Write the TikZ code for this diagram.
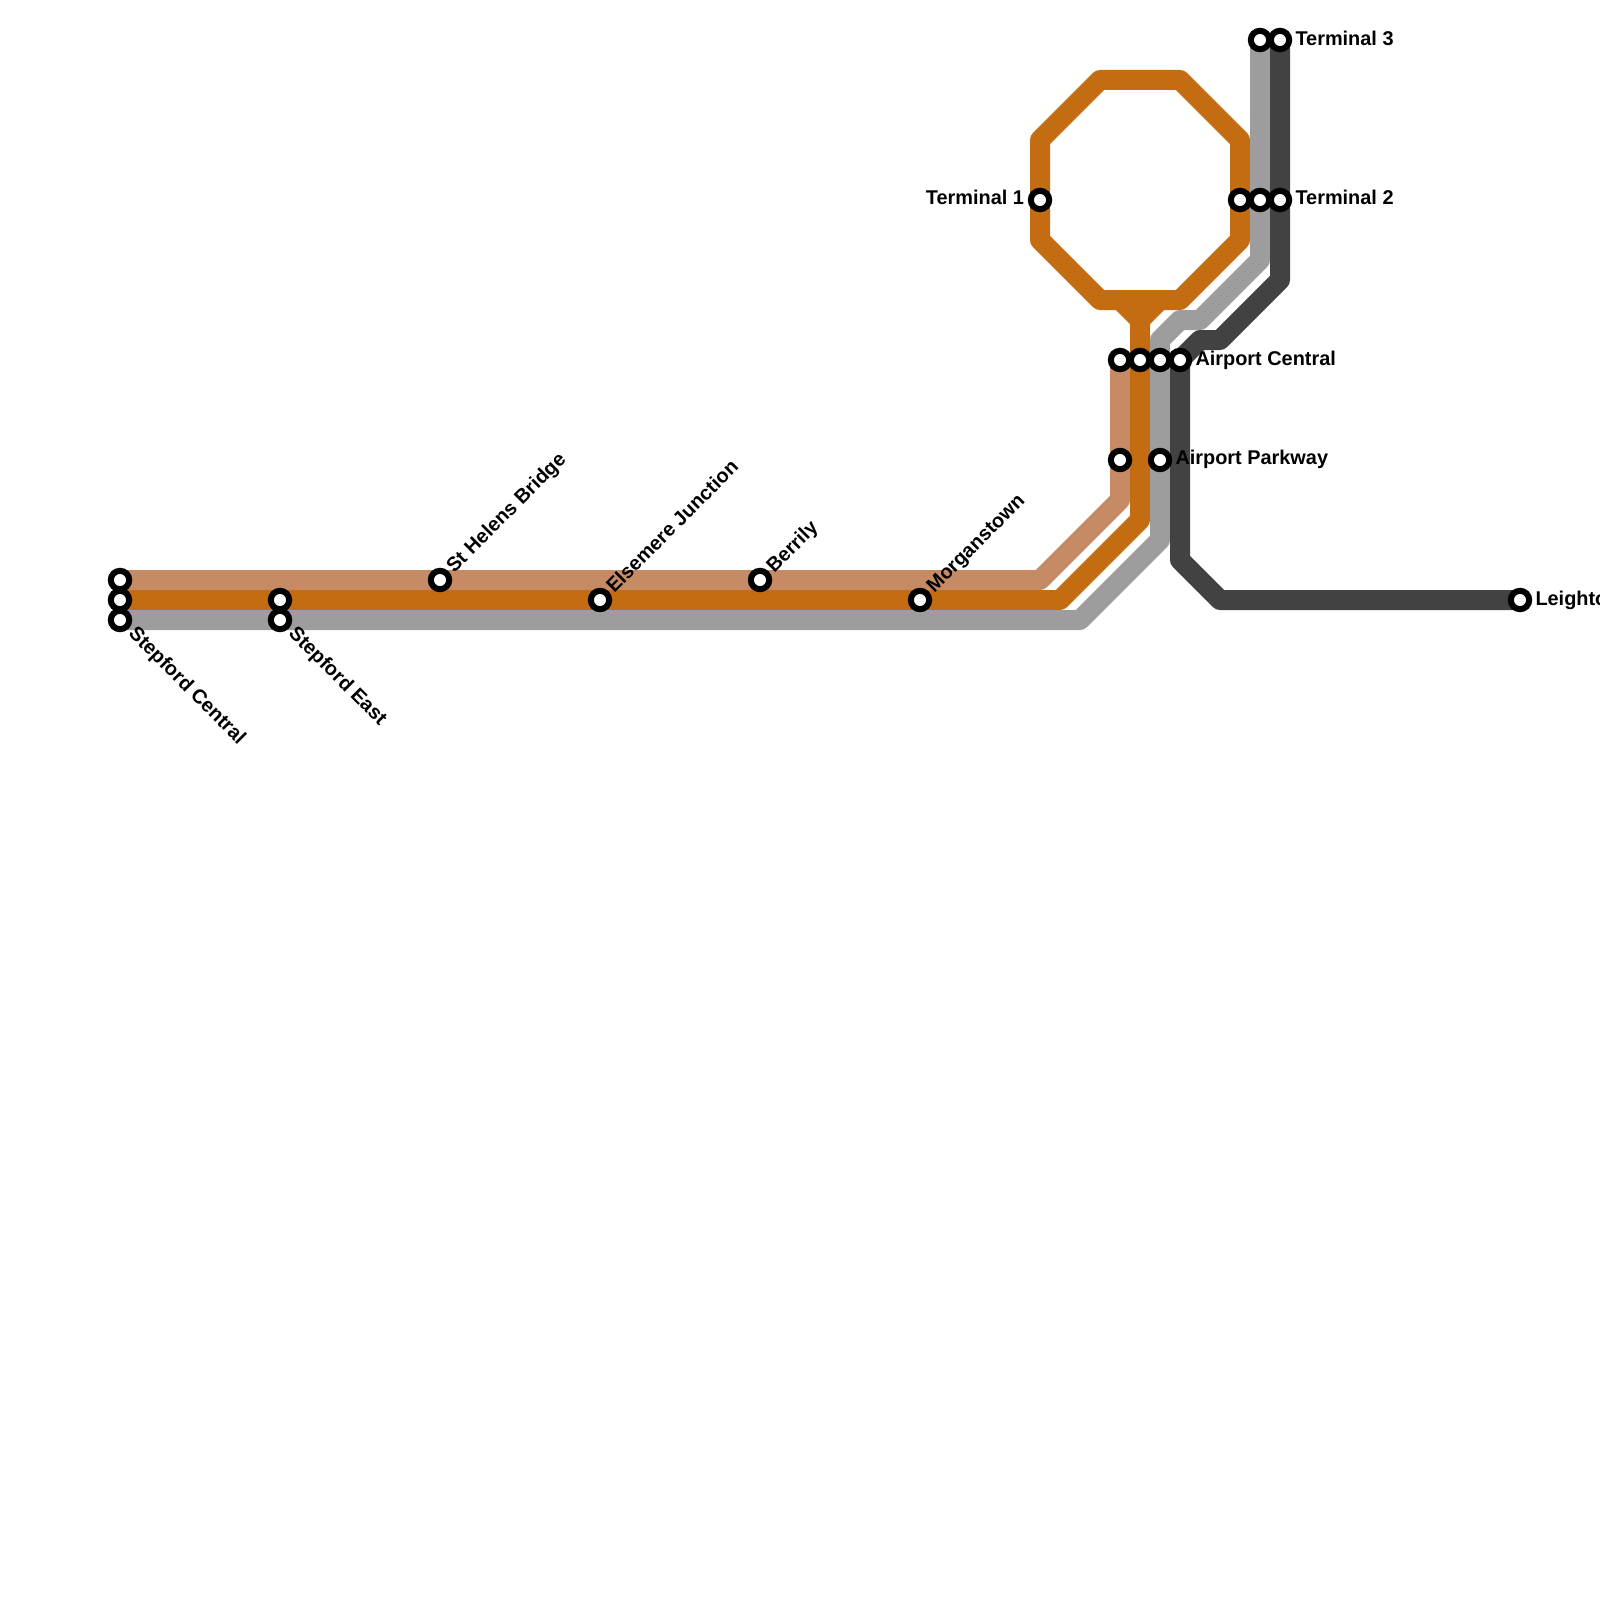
\documentclass[tikz,border=0pt]{standalone}
\usepackage{fontspec}
\setmainfont{Liberation Sans}
\definecolor{lnbrown}{HTML}{C68A65}
\definecolor{lnorange}{HTML}{C46C11}
\definecolor{lngrey}{HTML}{9E9D9E}
\definecolor{lndark}{HTML}{424242}
\tikzset{
  route/.style={line width=20pt,line join=round,line cap=butt},
  stn/.style={circle,draw=black,fill=white,line width=6pt,minimum size=18.4pt,inner sep=0pt,outer sep=0pt},
  lbl/.style={inner sep=0pt,outer sep=0pt,text=black,font=\fontsize{19.9}{24}\selectfont\bfseries}
}
\begin{document}
\begin{tikzpicture}[x=1pt,y=-1pt]
\useasboundingbox (0,0) rectangle (1600,1600);
\fill[white] (0,0) rectangle (1600,1600);
% stations positions
\coordinate (a1) at (120,580);
\coordinate (a2) at (120,600);
\coordinate (a3) at (120,620);
\coordinate (b2) at (280,600);
\coordinate (b3) at (280,620);
\coordinate (sh) at (440,580);
\coordinate (el) at (600,600);
\coordinate (be) at (760,580);
\coordinate (mo) at (920,600);
\coordinate (ac1) at (1120,360);
\coordinate (ac2) at (1140,360);
\coordinate (ac3) at (1160,360);
\coordinate (ac4) at (1180,360);
\coordinate (ap1) at (1120,460);
\coordinate (ap3) at (1160,460);
\coordinate (t1) at (1040,200);
\coordinate (t2a) at (1240,200);
\coordinate (t2b) at (1260,200);
\coordinate (t2c) at (1280,200);
\coordinate (t3b) at (1260,40);
\coordinate (t3c) at (1280,40);
\coordinate (le) at (1520,600);
% bends
\coordinate (p1) at (1040,580);
\coordinate (p2) at (1120,500);
\coordinate (o1) at (1060,600);
\coordinate (o2) at (1140,520);
\coordinate (o3) at (1140,320);
\coordinate (o4) at (1120,300);
\coordinate (o5) at (1160,300);
\coordinate (r1) at (1040,140);
\coordinate (r2) at (1100,80);
\coordinate (r3) at (1180,80);
\coordinate (r4) at (1240,140);
\coordinate (r5) at (1240,240);
\coordinate (r6) at (1180,300);
\coordinate (r7) at (1100,300);
\coordinate (r8) at (1040,240);
\coordinate (g1) at (1080,620);
\coordinate (g2) at (1160,540);
\coordinate (g3) at (1160,340);
\coordinate (g4) at (1180,320);
\coordinate (g5) at (1200,320);
\coordinate (g6) at (1260,260);
\coordinate (d1) at (1220,600);
\coordinate (d2) at (1180,560);
\coordinate (d3) at (1200,340);
\coordinate (d4) at (1220,340);
\coordinate (d5) at (1280,280);
% lines
\draw[route,lnbrown] (a1) -- (p1) -- (p2) -- (ac1);
\draw[route,lnorange] (a2) -- (o1) -- (o2) -- (o3) -- (o4);
\draw[route,lnorange] (o3) -- (o5);
\draw[route,lnorange] (r1) -- (r2) -- (r3) -- (r4) -- (r5) -- (r6) -- (r7) -- (r8) -- cycle;
\draw[route,lngrey] (a3) -- (g1) -- (g2) -- (g3) -- (g4) -- (g5) -- (g6) -- (t3b);
\draw[route,lndark] (le) -- (d1) -- (d2) -- (ac4) -- (d3) -- (d4) -- (d5) -- (t3c);
% station markers
\foreach \s in {a1,a2,a3,b2,b3,sh,el,be,mo,ac1,ac2,ac3,ac4,ap1,ap3,t1,t2a,t2b,t2c,t3b,t3c,le}
  \node[stn] (m\s) at (\s) {};
% labels
\node[lbl,anchor=base west] (lt3) at ([shift={(15.5,5.4)}]t3c) {Terminal 3};
\node[lbl,anchor=base west] (lt2) at ([shift={(15.5,4.8)}]t2c) {Terminal 2};
\node[lbl,anchor=base east] (lt1) at ([shift={(-16,4.8)}]t1) {Terminal 1};
\node[lbl,anchor=base west] (lac) at ([shift={(15.5,5)}]ac4) {Airport Central};
\node[lbl,anchor=base west] (lap) at ([shift={(15.5,4.8)}]ap3) {Airport Parkway};
\node[lbl,anchor=base west] (lle) at ([shift={(15.5,5)}]le) {Leighton};
\node[lbl,anchor=base west,rotate=45] (lsh) at ([shift={(14.3,-6.5)}]sh) {St Helens Bridge};
\node[lbl,anchor=base west,rotate=45] (lel) at ([shift={(14.3,-6.5)}]el) {Elsemere Junction};
\node[lbl,anchor=base west,rotate=45] (lbe) at ([shift={(14.3,-6.5)}]be) {Berrily};
\node[lbl,anchor=base west,rotate=45] (lmo) at ([shift={(14.3,-6.5)}]mo) {Morganstown};
\node[lbl,anchor=base west,rotate=-45] (lsc) at ([shift={(7.8,14.8)}]a3) {Stepford Central};
\node[lbl,anchor=base west,rotate=-45] (lse) at ([shift={(7.8,14.8)}]b3) {Stepford East};
\end{tikzpicture}
\end{document}
